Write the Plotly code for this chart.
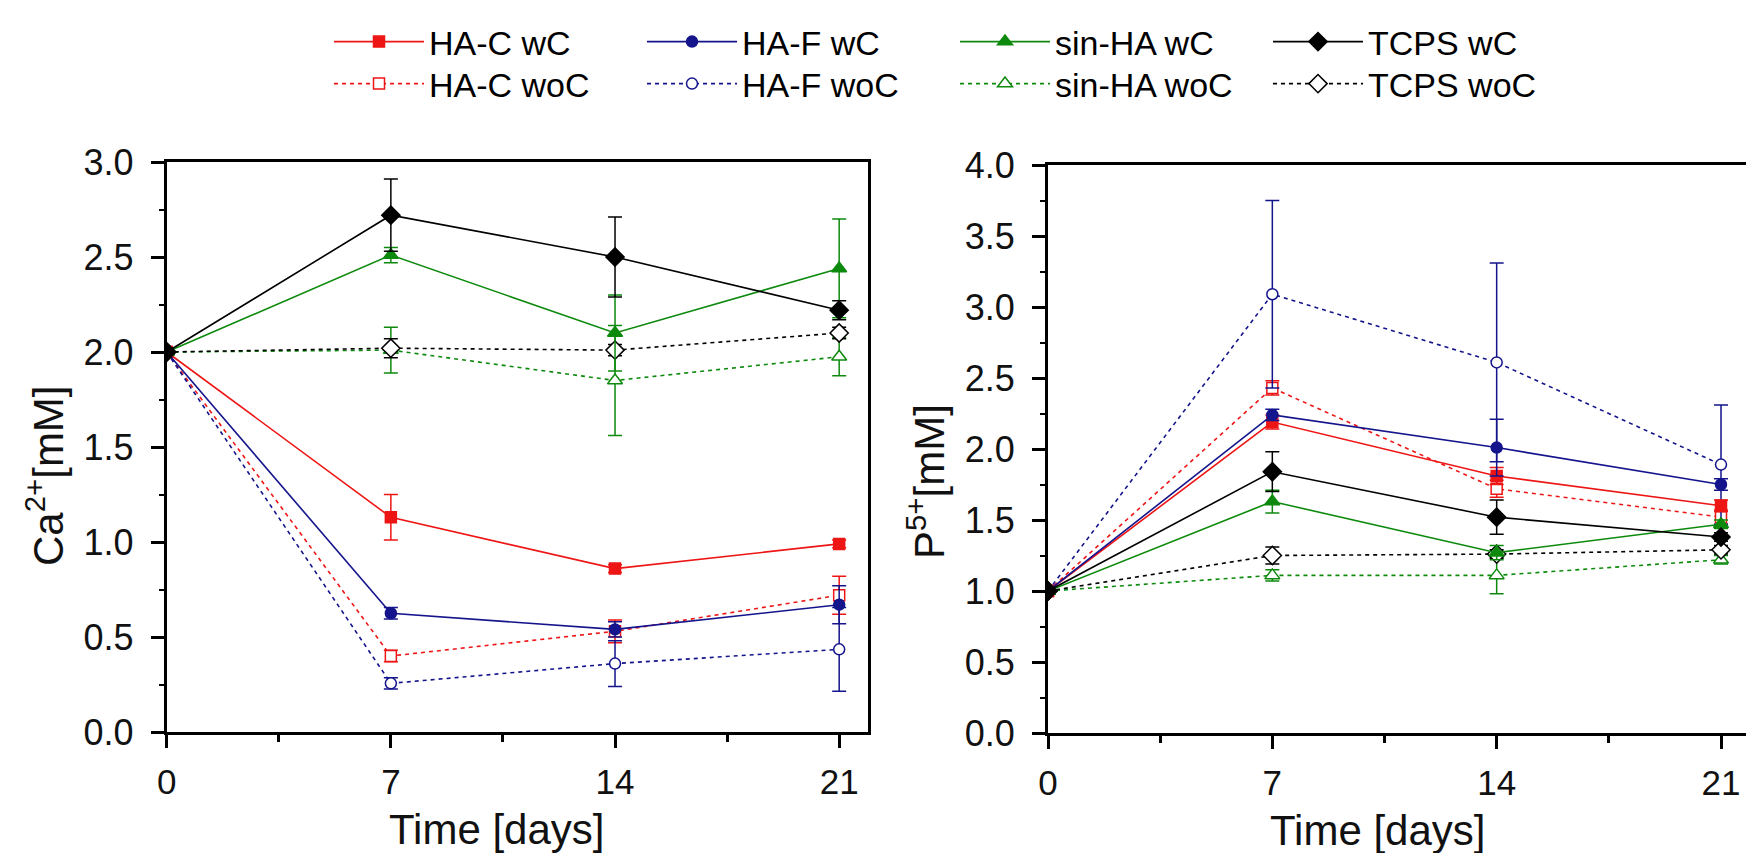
import plotly.graph_objects as go

# Sampling days
days = [0, 7, 14, 21]

# ---- Ca2+ concentration [mM] ----
ca_hac_wc = [2.00, 1.13, 0.86, 0.99]
ca_hac_wc_err = [0.0, 0.12, 0.02, 0.02]
ca_haf_wc = [2.00, 0.625, 0.54, 0.67]
ca_haf_wc_err = [0.0, 0.03, 0.04, 0.10]
ca_sin_wc = [2.00, 2.51, 2.10, 2.44]
ca_sin_wc_err = [0.0, 0.04, 0.20, 0.26]
ca_tcps_wc = [2.00, 2.72, 2.50, 2.22]
ca_tcps_wc_err = [0.0, 0.19, 0.21, 0.05]

ca_hac_woc = [2.00, 0.40, 0.53, 0.72]
ca_hac_woc_err = [0.0, 0.03, 0.06, 0.10]
ca_haf_woc = [2.00, 0.256, 0.36, 0.435]
ca_haf_woc_err = [0.0, 0.03, 0.12, 0.22]
ca_sin_woc = [2.00, 2.01, 1.85, 1.975]
ca_sin_woc_err = [0.0, 0.12, 0.29, 0.10]
ca_tcps_woc = [2.00, 2.02, 2.01, 2.10]
ca_tcps_woc_err = [0.0, 0.05, 0.03, 0.03]

# ---- P5+ concentration [mM] ----
p_hac_wc = [1.00, 2.19, 1.81, 1.60]
p_hac_wc_err = [0.0, 0.05, 0.06, 0.04]
p_haf_wc = [1.00, 2.24, 2.01, 1.75]
p_haf_wc_err = [0.0, 0.04, 0.20, 0.04]
p_sin_wc = [1.00, 1.63, 1.27, 1.47]
p_sin_wc_err = [0.0, 0.08, 0.05, 0.03]
p_tcps_wc = [1.00, 1.84, 1.52, 1.38]
p_tcps_wc_err = [0.0, 0.14, 0.12, 0.03]

p_hac_woc = [1.00, 2.43, 1.72, 1.52]
p_hac_woc_err = [0.0, 0.05, 0.06, 0.05]
p_haf_woc = [1.00, 3.09, 2.61, 1.89]
p_haf_woc_err = [0.0, 0.66, 0.70, 0.42]
p_sin_woc = [1.00, 1.11, 1.11, 1.22]
p_sin_woc_err = [0.0, 0.04, 0.13, 0.03]
p_tcps_woc = [1.00, 1.25, 1.26, 1.29]
p_tcps_woc_err = [0.0, 0.06, 0.03, 0.03]

RED = "#ee1515"
BLUE = "#14148c"
GREEN = "#0d8a0d"
BLACK = "#000000"
FONT = "Liberation Sans, Arial, sans-serif"

W, H = 1746, 853

# name, colour, symbol, Ca values/errors, P values/errors
with_cells = [
    ("HA-C wC", RED, "square", ca_hac_wc, ca_hac_wc_err, p_hac_wc, p_hac_wc_err),
    ("HA-F wC", BLUE, "circle", ca_haf_wc, ca_haf_wc_err, p_haf_wc, p_haf_wc_err),
    ("sin-HA wC", GREEN, "triangle-up", ca_sin_wc, ca_sin_wc_err, p_sin_wc, p_sin_wc_err),
    ("TCPS wC", BLACK, "diamond", ca_tcps_wc, ca_tcps_wc_err, p_tcps_wc, p_tcps_wc_err),
]
without_cells = [
    ("HA-C woC", RED, "square", ca_hac_woc, ca_hac_woc_err, p_hac_woc, p_hac_woc_err),
    ("HA-F woC", BLUE, "circle", ca_haf_woc, ca_haf_woc_err, p_haf_woc, p_haf_woc_err),
    ("sin-HA woC", GREEN, "triangle-up", ca_sin_woc, ca_sin_woc_err, p_sin_woc, p_sin_woc_err),
    ("TCPS woC", BLACK, "diamond", ca_tcps_woc, ca_tcps_woc_err, p_tcps_woc, p_tcps_woc_err),
]

MSIZE = {"square": 11, "circle": 11, "triangle-up": 13, "diamond": 14}

fig = go.Figure()


def add_series(name, color, symbol, y, err, xa, ya, filled, legend, show):
    fig.add_trace(go.Scatter(
        x=days, y=y, name=name, xaxis=xa, yaxis=ya,
        mode="lines+markers",
        line=dict(color=color, width=1.6, dash=None if filled else "4px,4px"),
        marker=dict(symbol=symbol, size=MSIZE[symbol],
                    color=color if filled else "white",
                    line=dict(color=color, width=1.5)),
        error_y=dict(type="data", array=err, visible=True,
                     color=color, thickness=1.5, width=7),
        legend=legend, showlegend=show,
    ))


for group, filled, leg in ((without_cells, False, "legend2"), (with_cells, True, "legend")):
    for name, color, symbol, ca, ca_err, p, p_err in group:
        add_series(name, color, symbol, ca, ca_err, "x", "y", filled, leg, True)
        add_series(name, color, symbol, p, p_err, "x2", "y2", filled, leg, False)

axis_common = dict(
    showline=True, linecolor="black", linewidth=3,
    ticks="outside", ticklen=13, tickwidth=2.5, tickcolor="black",
    showgrid=False, zeroline=False,
)

x_common = dict(axis_common, tick0=0, dtick=7, ticklabelstandoff=4,
                tickfont=dict(family=FONT, size=35, color="#111"),
                minor=dict(tick0=0, dtick=3.5, ticks="outside", ticklen=7,
                           tickwidth=2.5, tickcolor="black"))
y_common = dict(axis_common, dtick=0.5, tickformat=".1f", ticklabelstandoff=10,
                tickfont=dict(family=FONT, size=36, color="#111"),
                minor=dict(dtick=0.25, ticks="outside", ticklen=5,
                           tickwidth=2, tickcolor="black"))

legend_common = dict(
    orientation="h", xanchor="left", yanchor="middle",
    x=329 / W, entrywidth=208, entrywidthmode="pixels", itemwidth=90,
    font=dict(family=FONT, size=34, color="black"),
    bgcolor="rgba(0,0,0,0)", tracegroupgap=0,
)

title_font = dict(family=FONT, size=42, color="#111")

fig.update_layout(
    width=W, height=H,
    margin=dict(l=0, r=0, t=0, b=0, autoexpand=False),
    paper_bgcolor="white", plot_bgcolor="white",
    xaxis=dict(x_common, domain=[166.7 / W, 868 / W], range=[0, 21.9],
               anchor="y", mirror=True),
    yaxis=dict(y_common, domain=[(H - 732) / H, (H - 162) / H], range=[0, 3],
               anchor="x", mirror=True),
    xaxis2=dict(x_common, domain=[1048 / W, 1.0], range=[0, 21.78],
                anchor="y2", mirror=True),
    yaxis2=dict(y_common, domain=[(H - 733) / H, (H - 165) / H], range=[0, 4],
                anchor="x2", mirror=False),
    legend=dict(legend_common, y=1 - 42 / H),
    legend2=dict(legend_common, y=1 - 84 / H),
    annotations=[
        dict(text="Ca<sup>2+</sup>[mM]", textangle=-90, xref="paper", yref="paper",
             x=45 / W, y=(H - 476) / H, xanchor="center", yanchor="middle",
             showarrow=False, font=title_font),
        dict(text="P<sup>5+</sup>[mM]", textangle=-90, xref="paper", yref="paper",
             x=926 / W, y=(H - 482) / H, xanchor="center", yanchor="middle",
             showarrow=False, font=title_font),
        dict(text="Time [days]", xref="paper", yref="paper",
             x=497 / W, y=(H - 829) / H, xanchor="center", yanchor="middle",
             showarrow=False, font=title_font),
        dict(text="Time [days]", xref="paper", yref="paper",
             x=1378 / W, y=(H - 830) / H, xanchor="center", yanchor="middle",
             showarrow=False, font=title_font),
    ],
)

fig.write_html("out.html")
